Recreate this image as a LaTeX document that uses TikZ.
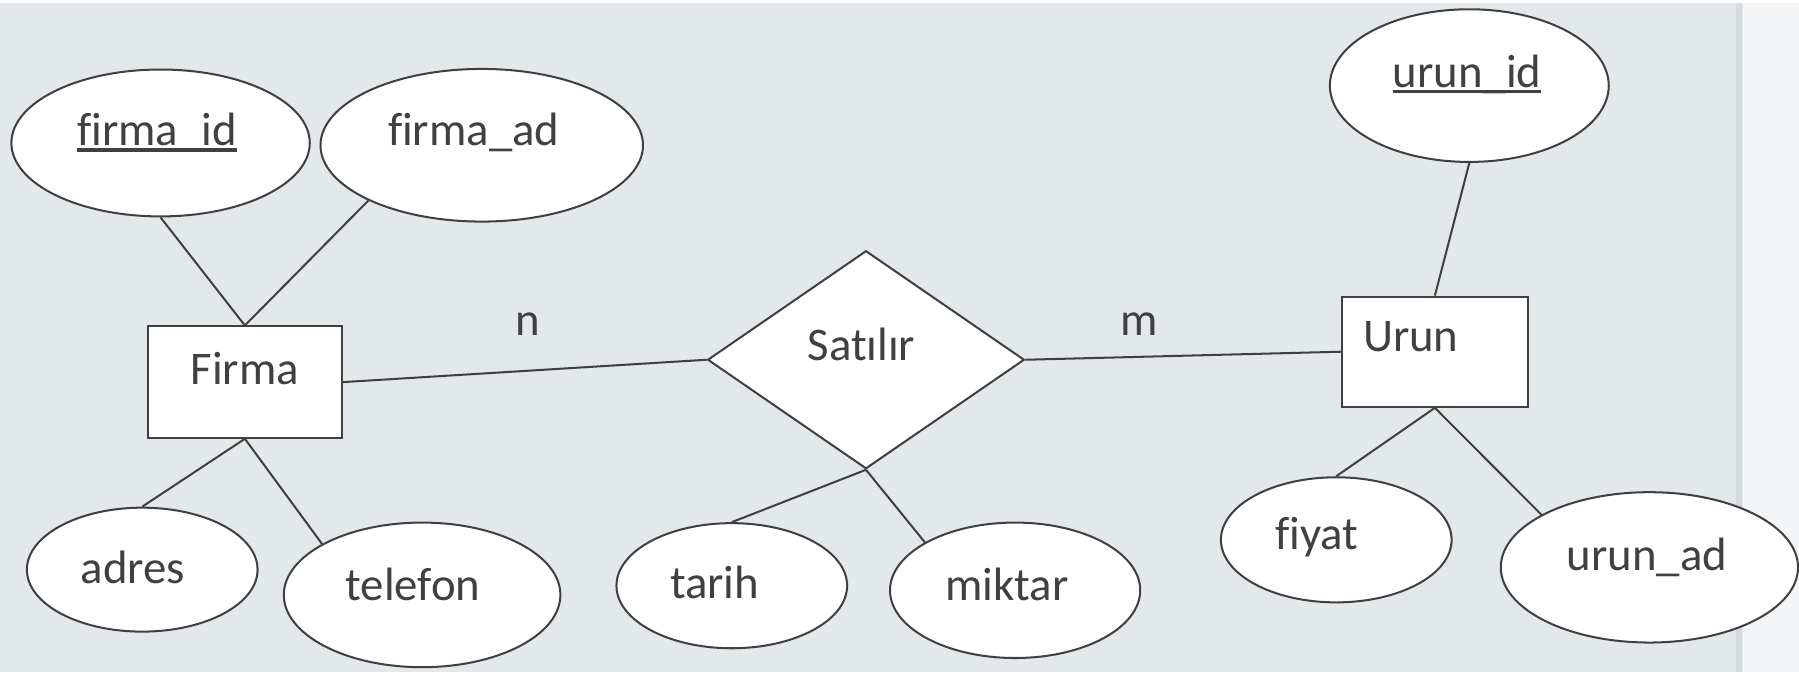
\documentclass[tikz,border=0pt]{standalone}
\usepackage{fontspec}
\setmainfont[Ligatures=NoCommon]{Carlito}
\usetikzlibrary{shapes.geometric, positioning}
\definecolor{bgcol}{HTML}{E3E8EB}
\definecolor{inkcol}{HTML}{404040}
% key attribute: thick line under the name
\newcommand{\keyattr}[1]{\setbox0\hbox{#1}\rlap{\rule[-0.13em]{\wd0}{0.08em}}\box0}

\begin{document}
\begin{tikzpicture}[
        x=0.01cm, y=-0.01cm,
        every node/.style={font=\fontsize{11.6}{14}\selectfont, text=inkcol},
        attr/.style={ellipse, draw=inkcol, fill=white, line width=0.5pt, inner sep=0pt},
        entity/.style={rectangle, draw=inkcol, fill=white, line width=0.5pt, inner sep=0pt},
        rel/.style={diamond, draw=inkcol, fill=white, line width=0.5pt, inner sep=0pt,
            minimum width=2.76cm, minimum height=1.9cm},
        line/.style={draw=inkcol, line width=0.5pt},
    ]
    % Background
    \fill[bgcol] (0,0) rectangle (1568,583);
    \fill[bgcol!45!white] (1520,0) rectangle (1568,583);
    \draw[bgcol!94!black, line width=1.5pt] (1516,0) -- (1516,583);
    % Entities and relation
    \node[entity, minimum width=1.69cm, minimum height=0.97cm,
        label={[yshift=0.12cm]center:Firma}] (firma) at (213.5,330.5) {};
    \node[entity, minimum width=1.62cm, minimum height=0.96cm,
        label={[xshift=-0.21cm, yshift=0.13cm]center:Urun}] (urun) at (1251,304) {};
    \node[rel, label={[xshift=-0.04cm, yshift=0.13cm]center:Satılır}] (satilir) at (755,311) {};
    % Attributes
    \node[attr, minimum width=2.6cm, minimum height=1.28cm,
        label={[xshift=-0.03cm, yshift=0.09cm]center:\keyattr{firma\_id}}] (firmaid) at (140,122) {};
    \node[attr, minimum width=2.81cm, minimum height=1.33cm,
        label={[xshift=-0.07cm, yshift=0.11cm]center:firma\_ad}] (firmaad) at (420,124) {};
    \node[attr, minimum width=2.01cm, minimum height=1.08cm,
        label={[xshift=-0.08cm, yshift=0.02cm]center:adres}] (adres) at (124,494) {};
    \node[attr, minimum width=2.41cm, minimum height=1.26cm,
        label={[xshift=-0.08cm, yshift=0.09cm]center:telefon}] (telefon) at (368,516) {};
    \node[attr, minimum width=2.01cm, minimum height=1.09cm,
        label={[xshift=-0.15cm, yshift=0.03cm]center:tarih}] (tarih) at (638,508) {};
    \node[attr, minimum width=2.18cm, minimum height=1.18cm,
        label={[xshift=-0.07cm, yshift=0.05cm]center:miktar}] (miktar) at (885,512) {};
    \node[attr, minimum width=2.43cm, minimum height=1.33cm,
        label={[xshift=-0.02cm, yshift=0.1cm]center:\keyattr{urun\_id}}] (urunid) at (1281,72) {};
    \node[attr, minimum width=2.01cm, minimum height=1.09cm,
        label={[xshift=-0.17cm, yshift=0.02cm]center:fiyat}] (fiyat) at (1165,468) {};
    \node[attr, minimum width=2.59cm, minimum height=1.31cm,
        label={[xshift=-0.02cm, yshift=0.09cm]center:urun\_ad}] (urunad) at (1438,492) {};
    % Cardinalities
    \node (n) at (460,280) {n};
    \node (m) at (993,280) {m};
    % Lines
    \draw[line] (firmaid.south) -- (firma.north);
    \draw[line] (firmaad.206) -- (firma.north);
    \draw[line] (firma.south) -- (adres.north);
    \draw[line] (firma.south) -- (telefon.153);
    \draw[line] (firma.east) -- (satilir.west);
    \draw[line] (satilir.east) -- (urun.west);
    \draw[line] (satilir.south) -- (tarih.north);
    \draw[line] (satilir.south) -- (miktar.152);
    \draw[line] (urunid.south) -- (urun.north);
    \draw[line] (urun.south) -- (fiyat.north);
    \draw[line] (urun.south) -- (urunad.154);
\end{tikzpicture}
\end{document}
